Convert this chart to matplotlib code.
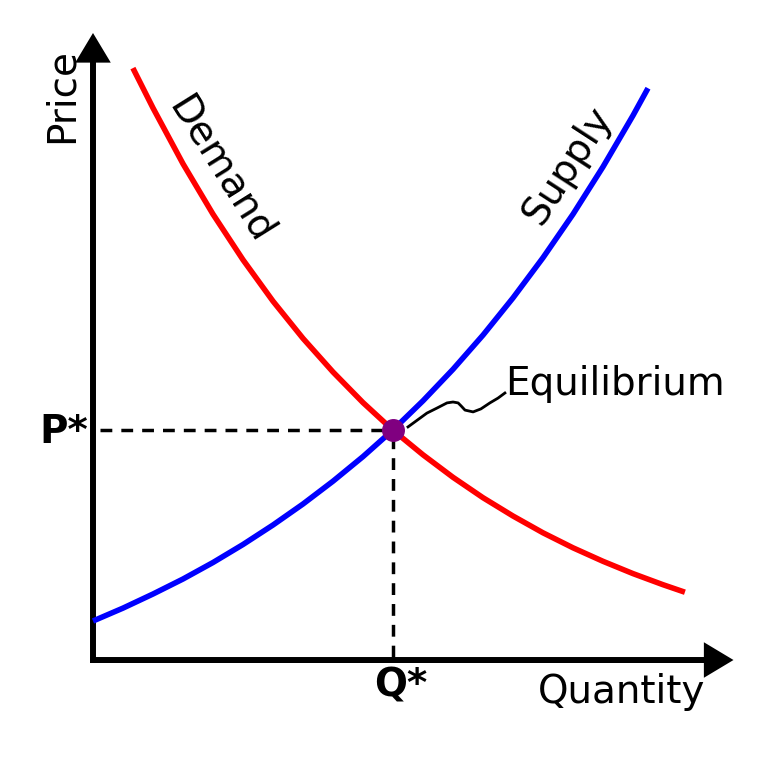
import matplotlib.pyplot as plt

# curves (quantity, price in arbitrary units)
supply_q = [0, 1, 2, 3, 4, 5, 6, 7, 8, 9, 10, 11, 12, 13, 14, 15, 16, 17, 18, 18.5]
supply_p = [1.30, 1.73, 2.20, 2.70, 3.25, 3.85, 4.50, 5.20, 5.96, 6.78, 7.67,
            8.64, 9.69, 10.83, 12.07, 13.41, 14.86, 16.44, 18.15, 19.06]
demand_q = [1.33, 2, 3, 4, 5, 6, 7, 8, 9, 10, 11, 12, 13, 14, 15, 16, 17, 18, 19, 19.73]
demand_p = [19.73, 18.40, 16.54, 14.86, 13.34, 11.96, 10.72, 9.60, 8.58, 7.66,
            6.84, 6.09, 5.41, 4.80, 4.24, 3.74, 3.29, 2.88, 2.51, 2.26]

q_star = 10
p_star = 7.67

# squiggly leader from the equilibrium point to its label
leader_q = [10.5, 11.13, 11.47, 11.8, 12.0, 12.17, 12.27, 12.4, 12.67, 12.93, 13.23, 13.5, 13.73]
leader_p = [7.77, 8.23, 8.4, 8.57, 8.6, 8.57, 8.47, 8.33, 8.27, 8.37, 8.57, 8.73, 8.9]

x_max = 21.35
y_max = 20.9

fig = plt.figure(figsize=(7.83, 7.57), dpi=100)
ax = fig.add_axes([0, 0, 1, 1])
ax.set_xlim(-3.1, 23.0)
ax.set_ylim(-3.233, 22.0)
ax.axis("off")

# axes with arrow heads
arrow = dict(arrowstyle="-|>,head_length=0.5,head_width=0.3", lw=4.3, color="black",
             shrinkA=0, shrinkB=0, mutation_scale=30, capstyle="butt", joinstyle="miter")
ax.annotate("", xy=(0, y_max), xytext=(0, -0.1), arrowprops=arrow)
ax.annotate("", xy=(x_max, 0), xytext=(-0.1, 0), arrowprops=arrow)

# dashed guides
ax.plot([0.23, q_star], [p_star, p_star], color="black", lw=2.5, ls=(0, (3.4, 2.6)), zorder=2)
ax.plot([q_star, q_star], [0.1, p_star], color="black", lw=2.5, ls=(0, (3.4, 2.6)), zorder=2)

ax.plot(supply_q, supply_p, color="#0000ff", lw=4.0, solid_capstyle="butt",
        solid_joinstyle="round", zorder=3)
ax.plot(demand_q, demand_p, color="#ff0000", lw=4.0, solid_capstyle="butt",
        solid_joinstyle="round", zorder=3)
ax.plot([q_star], [p_star], "o", color="#800080", markersize=15.5, zorder=4)

ax.plot(leader_q, leader_p, color="black", lw=2.0, solid_joinstyle="round", zorder=3)

fs = 28
ax.text(-1.03, 18.83, "Price", rotation=90, fontsize=fs, ha="center", va="center")
ax.text(17.63, -1.43, "Quantity", fontsize=fs, ha="center", va="baseline")
ax.text(-0.17, 7.23, "P*", fontsize=fs, fontweight="bold", ha="right", va="baseline")
ax.text(10.27, -1.23, "Q*", fontsize=fs, fontweight="bold", ha="center", va="baseline")
ax.text(13.73, 8.83, "Equilibrium", fontsize=fs, ha="left", va="baseline")
ax.text(4.25, 16.35, "Demand", fontsize=fs, rotation=-58, rotation_mode="anchor",
        ha="center", va="center")
ax.text(15.83, 16.5, "Supply", fontsize=fs, rotation=57, rotation_mode="anchor",
        ha="center", va="center")

fig.savefig("out.png", dpi=100, facecolor="white")
